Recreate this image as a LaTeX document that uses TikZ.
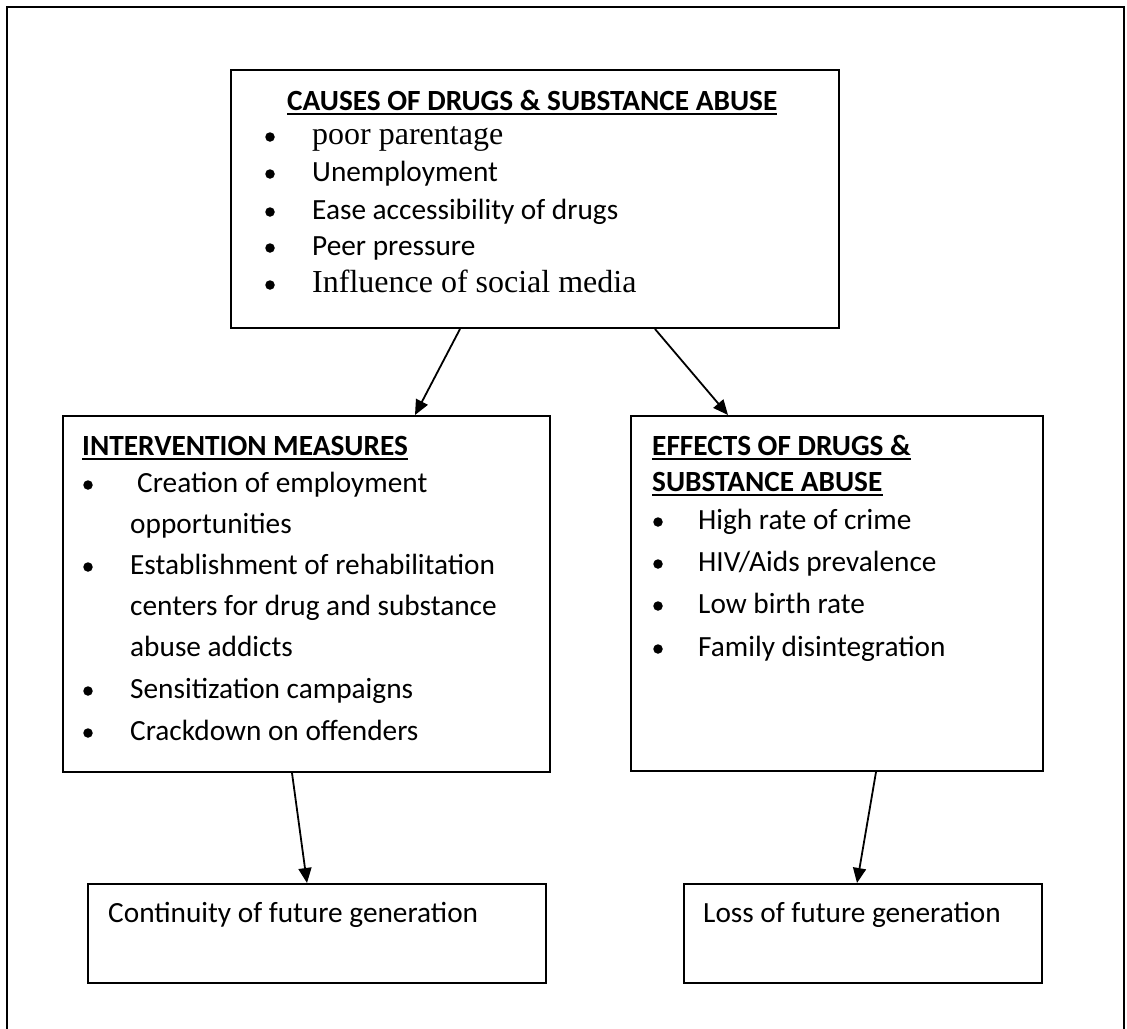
\documentclass[tikz,border=0pt]{standalone}
\usepackage{fontspec}
\setmainfont{Carlito}
\newfontfamily\timesf{Liberation Serif}
\usetikzlibrary{arrows.meta,calc}
\begin{document}
\begin{tikzpicture}[x=1pt,y=-1pt,
  box/.style={draw,line width=2pt,rectangle,inner sep=0,anchor=north west},
  txt/.style={anchor=base west,inner sep=0,font=\fontsize{29.3}{35}\selectfont},
  tms/.style={anchor=base west,inner sep=0,font=\timesf\fontsize{32}{36}\selectfont},
  hdr/.style={anchor=base west,inner sep=0,font=\bfseries\fontsize{29.3}{35}\selectfont},
  dot/.style={circle,fill,inner sep=0,minimum size=9.5pt},
  arr/.style={line width=1.8pt,-{Triangle[length=15pt,width=13pt]}},
  ul/.style={line width=2pt}]
\useasboundingbox (0,0) rectangle (1127,1028);
\begin{scope}
\clip (0,0) rectangle (1127,1028);
\draw[line width=2.5pt] (7,1100) -- (7,7) -- (1124,7) -- (1124,1100);
\end{scope}
% boxes
\node[box,minimum width=608pt,minimum height=258pt] (causes) at (230,69) {};
\node[box,minimum width=487pt,minimum height=356pt] (interv) at (62,415) {};
\node[box,minimum width=412pt,minimum height=355pt] (effects) at (630,415) {};
\node[box,minimum width=458pt,minimum height=99pt] (botL) at (87,883) {};
\node[box,minimum width=358pt,minimum height=99pt] (botR) at (683,883) {};
% causes
\node[hdr] (h1) at (287,110) {CAUSES OF DRUGS \& SUBSTANCE ABUSE};
\draw[ul] ([yshift=-4pt]h1.base west) -- ([yshift=-4pt]h1.base east);
\node[dot] (c1) at (270,137) {};
\node[dot] (c2) at (270,174) {};
\node[dot] (c3) at (270,212) {};
\node[dot] (c4) at (270,248) {};
\node[dot] (c5) at (270,285) {};
\node[tms] (t1) at (312,144) {poor parentage};
\node[txt] (t2) at (312,181) {Unemployment};
\node[txt] (t3) at (312,219) {Ease accessibility of drugs};
\node[txt] (t4) at (312,255) {Peer pressure};
\node[tms] (t5) at (312,292) {Influence of social media};
% intervention
\node[hdr] (h2) at (82,455) {INTERVENTION MEASURES};
\draw[ul] ([yshift=-4pt]h2.base west) -- ([yshift=-4pt]h2.base east);
\node[dot] (i1) at (88,485) {};
\node[dot] (i2) at (88,567) {};
\node[dot] (i3) at (88,691) {};
\node[dot] (i4) at (88,733) {};
\node[txt] (l1) at (137,492) {Creation of employment};
\node[txt] (l2) at (130,533) {opportunities};
\node[txt] (l3) at (130,574) {Establishment of rehabilitation};
\node[txt] (l4) at (130,615) {centers for drug and substance};
\node[txt] (l5) at (130,656) {abuse addicts};
\node[txt] (l6) at (130,698) {Sensitization campaigns};
\node[txt] (l7) at (130,740) {Crackdown on offenders};
% effects
\node[hdr] (h3) at (652,455) {EFFECTS OF DRUGS \&};
\draw[ul] ([yshift=-4pt]h3.base west) -- ([yshift=-4pt]h3.base east);
\node[hdr] (h4) at (652,491) {SUBSTANCE ABUSE};
\draw[ul] ([yshift=-4pt]h4.base west) -- ([yshift=-4pt]h4.base east);
\node[dot] (e1) at (658,522) {};
\node[dot] (e2) at (658,564) {};
\node[dot] (e3) at (658,606) {};
\node[dot] (e4) at (658,649) {};
\node[txt] (r1) at (698,529) {High rate of crime};
\node[txt] (r2) at (698,571) {HIV/Aids prevalence};
\node[txt] (r3) at (698,613) {Low birth rate};
\node[txt] (r4) at (698,656) {Family disintegration};
% bottom
\node[txt] (bl) at (108,922) {Continuity of future generation};
\node[txt] (br) at (703,922) {Loss of future generation};
% arrows
\draw[arr] ([xshift=230pt]causes.south west) -- ([xshift=353pt]interv.north west);
\draw[arr] ([xshift=425pt]causes.south west) -- ([xshift=98pt]effects.north west);
\draw[arr] ([xshift=230pt]interv.south west) -- ([xshift=220pt]botL.north west);
\draw[arr] ([xshift=246pt]effects.south west) -- ([xshift=174pt]botR.north west);
\end{tikzpicture}
\end{document}
